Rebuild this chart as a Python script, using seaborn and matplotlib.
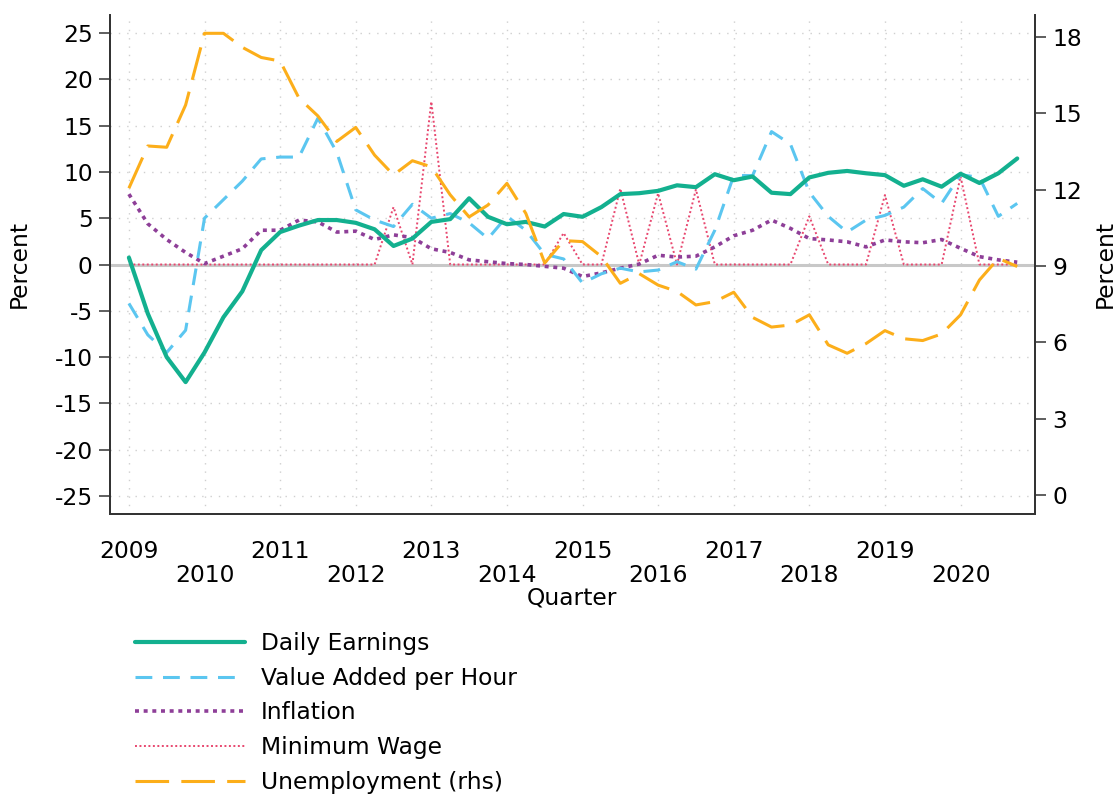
import numpy as np
import pandas as pd
import seaborn as sns
import matplotlib.pyplot as plt

# quarterly series, 2009q1 - 2020q4
quarters = pd.period_range('2009Q1', '2020Q4', freq='Q')

daily_earnings = [0.75, -5.3, -10.0, -12.7, -9.5, -5.7, -2.9, 1.55, 3.5, 4.2, 4.8, 4.8,
                  4.5, 3.8, 2.0, 2.8, 4.6, 4.9, 7.15, 5.15, 4.35, 4.6, 4.1, 5.45,
                  5.15, 6.2, 7.6, 7.7, 7.95, 8.55, 8.35, 9.75, 9.1, 9.5, 7.75, 7.6,
                  9.4, 9.9, 10.1, 9.85, 9.65, 8.5, 9.2, 8.4, 9.8, 8.8, 9.85, 11.45]
value_added = [-4.2, -7.6, -9.5, -7.1, 5.0, 7.0, 9.0, 11.4, 11.6, 11.6, 15.8, 12.1,
               5.9, 4.8, 4.1, 6.5, 5.0, 5.5, 4.5, 2.8, 5.2, 3.7, 1.1, 0.6,
               -2.0, -1.0, -0.4, -0.8, -0.6, 0.3, -0.5, 3.7, 9.6, 9.6, 14.35, 13.0,
               7.8, 5.2, 3.5, 4.8, 5.3, 6.2, 8.2, 6.6, 9.7, 9.4, 5.2, 6.6]
inflation = [7.6, 4.4, 2.7, 1.3, 0.1, 0.9, 1.7, 3.7, 3.7, 4.8, 4.6, 3.5,
             3.6, 2.7, 3.2, 2.9, 1.7, 1.3, 0.5, 0.3, 0.1, 0.0, -0.2, -0.4,
             -1.3, -0.9, -0.4, 0.05, 1.0, 0.8, 0.9, 1.9, 3.1, 3.7, 4.8, 3.9,
             2.8, 2.65, 2.45, 1.9, 2.65, 2.45, 2.35, 2.7, 1.75, 0.85, 0.5, 0.25]
min_wage = [0, 0, 0, 0, 0, 0, 0, 0, 0, 0, 0, 0,
            0, 0, 6.2, 0, 17.6, 0, 0, 0, 0, 0, 0, 3.4,
            0, 0, 8.2, 0, 7.7, 0, 8.1, 0, 0, 0, 0, 0,
            5.2, 0, 0, 0, 7.5, 0, 0, 0, 9.5, 0, 0, 0]
unemployment = [12.06, 13.72, 13.67, 15.33, 18.15, 18.15, 17.6, 17.2, 17.06, 15.6, 14.9, 13.9,
                14.45, 13.36, 12.58, 13.14, 12.9, 11.8, 10.93, 11.4, 12.25, 11.07, 9.12, 10.0,
                9.96, 9.37, 8.32, 8.7, 8.25, 8.0, 7.47, 7.6, 7.97, 6.98, 6.6, 6.68,
                7.08, 5.9, 5.57, 5.95, 6.46, 6.14, 6.07, 6.33, 7.08, 8.45, 9.3, 8.98]

years = list(range(2009, 2021))
left_ticks = [25, 20, 15, 10, 5, 0, -5, -10, -15, -20, -25]
right_ticks = [0, 3, 6, 9, 12, 15, 18]

df = pd.DataFrame({
    't': quarters.year + (quarters.quarter - 1) / 4,
    'earn': daily_earnings,
    'va': value_added,
    'infl': inflation,
    'mw': min_wage,
    'unemp': unemployment,
})

sns.set_theme(style='white')
plt.rcParams['font.family'] = ['DejaVu Sans']
plt.rcParams['axes.unicode_minus'] = False
plt.rcParams['text.color'] = 'black'
plt.rcParams['axes.labelcolor'] = 'black'

fs = 16.8
W, H = 1116, 796
fig = plt.figure(figsize=(W / 100, H / 100), dpi=100)
ax = fig.add_axes([110 / W, 1 - 514 / H, (1035 - 110) / W, (514 - 15) / H])
ax2 = ax.twinx()

grid_kw = dict(color='#cfcfcf', lw=1.0, linestyle=(0, (1, 5)))
for y in left_ticks:
    ax.axhline(y, zorder=0.5, **grid_kw)
for yr in years:
    ax.axvline(yr, zorder=0.5, **grid_kw)
ax.axhline(0, color='#c8c8c8', lw=2.2, zorder=1)

sns.lineplot(data=df, x='t', y='earn', ax=ax, color='#13b08f', lw=3.0,
             label='Daily Earnings', zorder=3)
sns.lineplot(data=df, x='t', y='va', ax=ax, color='#5bc6f0', lw=2.2,
             linestyle=(0, (5.5, 3.5)), label='Value Added per Hour', zorder=2.5)
sns.lineplot(data=df, x='t', y='infl', ax=ax, color='#8e3f98', lw=2.6,
             linestyle=(0, (1.1, 1.3)), label='Inflation', zorder=2.4)
sns.lineplot(data=df, x='t', y='mw', ax=ax, color='#e8476f', lw=1.4,
             linestyle=(0, (1, 1.3)), label='Minimum Wage', zorder=2.3)
sns.lineplot(data=df, x='t', y='unemp', ax=ax2, color='#fcae1a', lw=2.2,
             linestyle=(0, (11, 4)), label='Unemployment (rhs)')

ax.set_xlim(2008.75, 2020.985)
ax.set_ylim(-26.94, 26.94)
ax2.set_ylim(-0.75, 18.87)

ax.set_xticks(years)
ax.set_xticklabels([str(y) if i % 2 == 0 else '\n' + str(y) for i, y in enumerate(years)])
for t in ax.get_xticklabels():
    t.set_linespacing(1.05)
ax.set_yticks(left_ticks)
ax2.set_yticks(right_ticks)

for a in (ax, ax2):
    a.tick_params(axis='both', direction='out', length=8, width=1.1,
                  labelsize=fs, pad=4.5, color='#333333', labelcolor='black')
    a.spines['top'].set_visible(False)
    for s in ('left', 'right', 'bottom'):
        a.spines[s].set_color('#333333')
        a.spines[s].set_linewidth(1.3)
ax.tick_params(axis='x', pad=10.5)

ax.set_xlabel('Quarter', fontsize=fs, labelpad=0)
ax.set_ylabel('Percent', fontsize=fs, labelpad=17)
ax2.set_ylabel('Percent', fontsize=fs, labelpad=8)

h1, l1 = ax.get_legend_handles_labels()
h2, l2 = ax2.get_legend_handles_labels()
for a in (ax, ax2):
    if a.get_legend() is not None:
        a.get_legend().remove()

fig.legend(h1 + h2, l1 + l2, loc='upper left', bbox_to_anchor=(135 / W, 1 - 632 / H),
           frameon=False, fontsize=fs, handlelength=4.7, handletextpad=0.7,
           labelspacing=0.5, borderpad=0, borderaxespad=0)

fig.savefig('out.png', dpi=100)
